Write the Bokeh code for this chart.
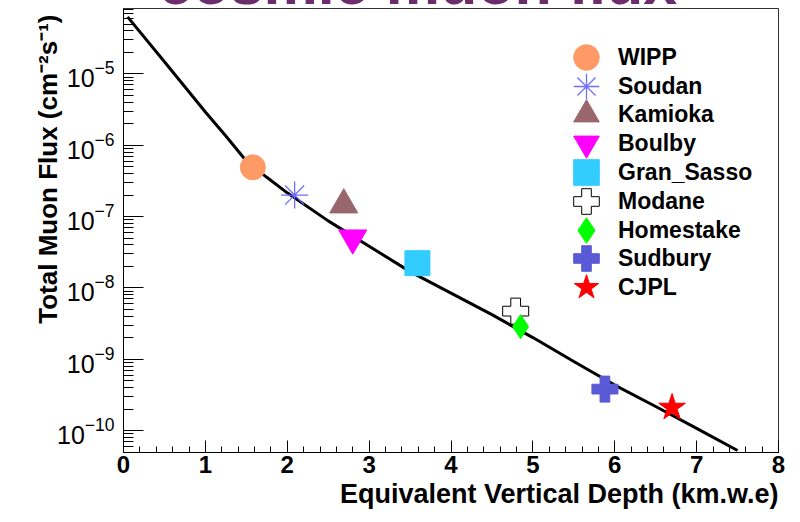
import math
from bokeh.plotting import figure
from bokeh.models import (Legend, LegendItem, SingleIntervalTicker, Range1d, Title)
from bokeh.embed import file_html
from bokeh.resources import INLINE

# ---- data ----
curve_depth = [0.05, 0.5, 1.0, 1.25, 1.5, 1.75, 2.0, 2.5, 3.0, 3.5, 4.0, 4.5, 5.0, 5.5, 6.0, 6.5, 7.0, 7.5]
curve_flux = [6.3e-5, 1.48e-5, 2.93e-6, 1.35e-6, 6.0e-7, 3.55e-7, 2.15e-7, 8.7e-8, 3.84e-8,
              1.69e-8, 8.43e-9, 4.21e-9, 2.01e-9, 9.3e-10, 4.34e-10, 2.17e-10, 1.07e-10, 5.25e-11]

sites = ["WIPP", "Soudan", "Kamioka", "Boulby", "Gran_Sasso", "Modane", "Homestake", "Sudbury", "CJPL"]
site_depth = [1.58, 2.09, 2.69, 2.80, 3.59, 4.79, 4.85, 5.88, 6.70]
site_flux = [4.9e-7, 2.0e-7, 1.46e-7, 5.0e-8, 2.22e-8, 4.72e-9, 2.86e-9, 3.81e-10, 2.1e-10]

title_text = "cosmic muon flux"
x_title = "Equivalent Vertical Depth (km.w.e)"
y_title = "Total Muon Flux (cm\u207b\u00b2s\u207b\u00b9)"

# ---- styles ----
styles = {
    "WIPP":       dict(marker="circle", size=25, fill_color="#FF9966", line_color="#FF9966"),
    "Soudan":     dict(marker="asterisk", size=27, line_color="#6E6EFF", line_width=1.3),
    "Kamioka":    dict(marker="triangle", size=28, fill_color="#99666E", line_color="#99666E"),
    "Boulby":     dict(marker="inverted_triangle", size=28, fill_color="#FF00FF", line_color="#FF00FF"),
    "Gran_Sasso": dict(marker="square", size=25, fill_color="#33CCFF", line_color="#33CCFF"),
    "Modane":     dict(marker="plus", size=26, fill_color="white", line_color="black", line_width=1),
    "Homestake":  dict(marker="diamond", size=24, fill_color="#00FF00", line_color="#00FF00"),
    "Sudbury":    dict(marker="plus", size=26, fill_color="#5A5AD6", line_color="#5A5AD6"),
    "CJPL":       dict(marker="star", size=28, fill_color="#FF0000", line_color="#FF0000"),
}

FONT = "Liberation Sans"
SHIFT = 100   # extra room above the frame for the (cut-off) title; page is pulled up by this much

p = figure(width=800, height=522 + SHIFT, x_range=Range1d(0, 8), y_range=Range1d(4.92e-11, 8.26e-5),
           y_axis_type="log", output_backend="svg", toolbar_location=None,
           min_border_left=123, min_border_right=22, min_border_top=8 + SHIFT, min_border_bottom=70,
           title=title_text)
p.styles = {"margin-top": f"-{SHIFT}px"}
p.title.text_font = FONT
p.title.text_font_style = "bold"
p.title.text_font_size = "61px"
p.title.text_color = "#6B2D6B"
p.title.align = "left"
p.title.offset = 35
p.title.standoff = -16

p.xgrid.visible = False
p.ygrid.visible = False
p.outline_line_color = "#333333"
p.outline_line_width = 1
p.background_fill_color = "white"
p.border_fill_color = "white"

# axes
p.xaxis.ticker = SingleIntervalTicker(interval=1, num_minor_ticks=5)
for ax in (p.xaxis[0], p.yaxis[0]):
    ax.axis_line_color = "black"
    ax.major_tick_line_color = "black"
    ax.minor_tick_line_color = "black"
    ax.major_tick_out = 0
    ax.minor_tick_out = 0
    ax.major_label_text_color = "black"
    ax.major_label_text_font = FONT
p.xaxis.major_tick_in = 12
p.xaxis.minor_tick_in = 6
p.xaxis.major_label_text_font_size = "24px"
p.xaxis.major_label_text_font_style = "bold"
p.xaxis.major_label_standoff = 3
p.yaxis.major_tick_in = 20
p.yaxis.minor_tick_in = 10
p.yaxis.major_label_text_font_size = "25px"
p.yaxis.major_label_standoff = 9

# axis titles
p.add_layout(Title(text=x_title, align="right", offset=0, vertical_align="top", standoff=7,
                   text_font=FONT, text_font_style="bold", text_font_size="27px",
                   text_color="black"), "below")
p.add_layout(Title(text=y_title, align="right", offset=6, vertical_align="bottom", standoff=-16,
                   text_font=FONT, text_font_style="bold", text_font_size="26px",
                   text_color="black"), "left")

# curve
p.line(curve_depth, curve_flux, line_width=3, line_color="black")

# sites, each with its own one-row legend (rows 28.75 px apart)
GLYPH = 64
for i, (name, d, f) in enumerate(zip(sites, site_depth, site_flux)):
    r = p.scatter([d], [f], **styles[name])
    row_center = 57 + 28.75 * i
    lg = Legend(items=[LegendItem(label=name, renderers=[r])],
                location=(431, int(round(452 - row_center - GLYPH / 2))),
                glyph_width=GLYPH, glyph_height=GLYPH, spacing=0, label_standoff=0,
                padding=0, margin=0, border_line_alpha=0, background_fill_alpha=0,
                label_text_font=FONT, label_text_font_style="bold",
                label_text_font_size="23px", label_text_color="black")
    p.add_layout(lg)

open("out.html", "w").write(file_html(p, INLINE))
